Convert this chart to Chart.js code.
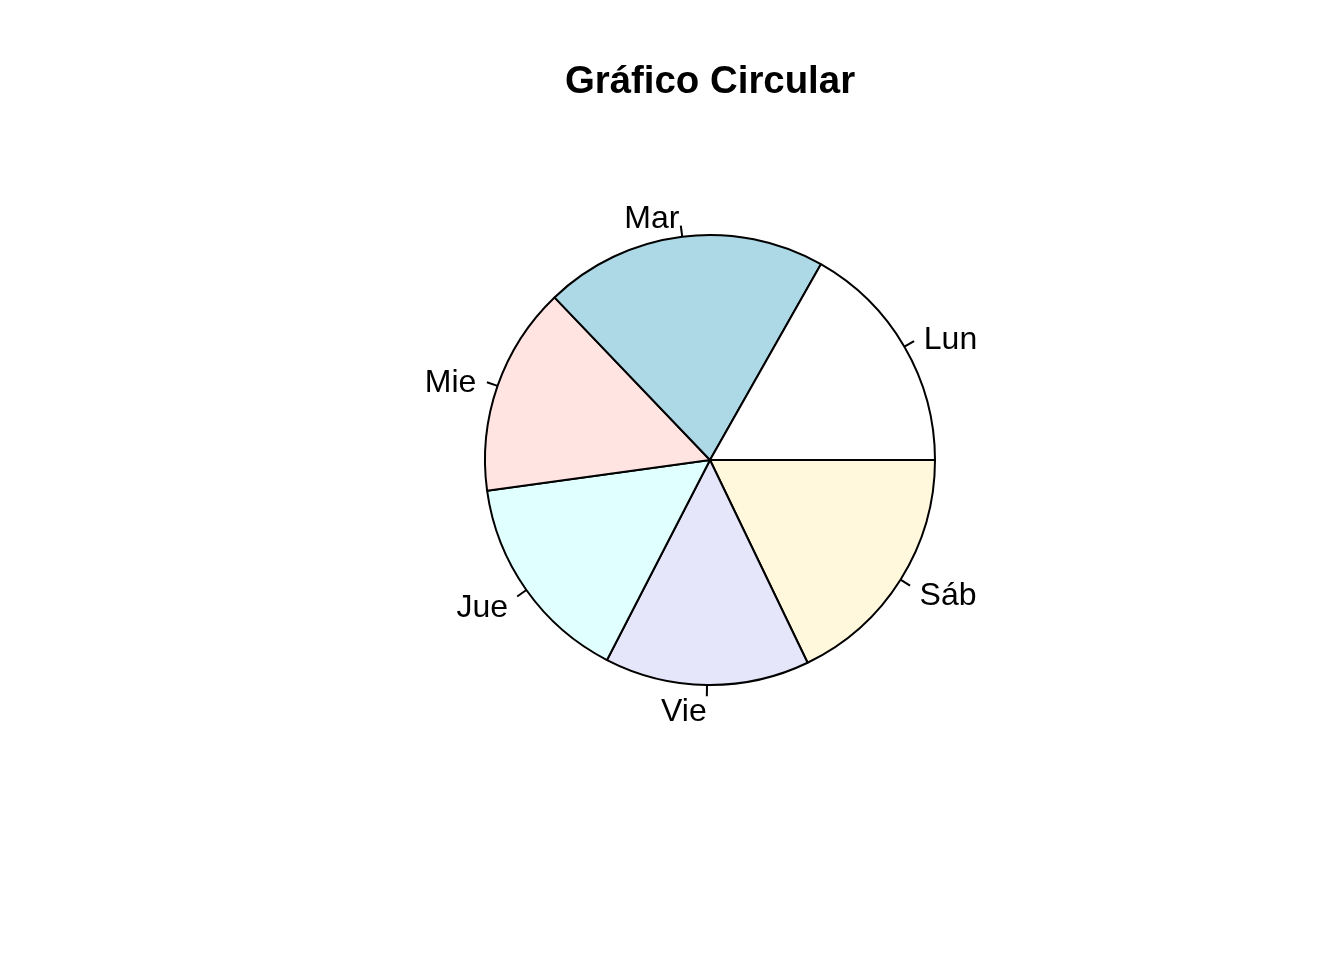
<!DOCTYPE html>
<html>
<head>
<meta charset="utf-8">
<script src="https://cdn.jsdelivr.net/npm/chart.js@4.4.1/dist/chart.umd.min.js"></script>
<style>
html,body{margin:0;padding:0;background:#fff;}
canvas{display:block;}
</style>
</head>
<body>
<canvas id="c" width="1344" height="960"></canvas>
<script>
// Data (R pie order: counter-clockwise from 3 o'clock)
const categories = ["Lun", "Mar", "Mie", "Jue", "Vie", "Sáb"];
const values = [16.8, 20.35, 15.03, 15.26, 14.71, 17.86];
const colors = ["#FFFFFF", "#ADD8E6", "#FFE4E1", "#E0FFFF", "#E6E6FA", "#FFF8DC"];
const titleText = "Gráfico Circular";

// Chart.js draws clockwise, so reverse to emulate R's counter-clockwise order
const cLabels = categories.slice().reverse();
const cValues = values.slice().reverse();
const cColors = colors.slice().reverse();

const FONT = '"Liberation Sans", Arial, sans-serif';

const labelPlugin = {
  id: 'rlabels',
  afterDatasetsDraw(chart) {
    const ctx = chart.ctx;
    const meta = chart.getDatasetMeta(0);
    ctx.save();
    ctx.strokeStyle = '#000';
    ctx.lineWidth = 2;
    ctx.fillStyle = '#000';
    ctx.font = '32px ' + FONT;
    ctx.textBaseline = 'alphabetic';
    meta.data.forEach((arc, i) => {
      const p = arc.getProps(['x', 'y', 'startAngle', 'endAngle', 'outerRadius'], true);
      const mid = (p.startAngle + p.endAngle) / 2;
      const cx = Math.cos(mid), cy = Math.sin(mid);
      const r = p.outerRadius;
      ctx.beginPath();
      ctx.moveTo(p.x + cx * r, p.y + cy * r);
      ctx.lineTo(p.x + cx * r * 1.05, p.y + cy * r * 1.05);
      ctx.stroke();
      const lx = p.x + cx * r * 1.1;
      const ly = p.y + cy * r * 1.1;
      ctx.textAlign = cx >= 0 ? 'left' : 'right';
      ctx.fillText(chart.data.labels[i], lx, ly + 13.5);
    });
    ctx.font = 'bold 38.4px ' + FONT;
    ctx.textAlign = 'center';
    ctx.fillText(titleText, 710, 93);
    ctx.restore();
  }
};

new Chart(document.getElementById('c'), {
  type: 'pie',
  data: {
    labels: cLabels,
    datasets: [{
      data: cValues,
      backgroundColor: cColors,
      borderColor: '#000000',
      borderWidth: 2,
      radius: 225,
      hoverOffset: 0
    }]
  },
  options: {
    responsive: false,
    animation: false,
    devicePixelRatio: 1,
    rotation: 90,
    layout: { padding: { left: 485, right: 409, top: 235, bottom: 275 } },
    plugins: {
      legend: { display: false },
      tooltip: { enabled: false },
      title: { display: false }
    },
    events: []
  },
  plugins: [labelPlugin]
});
</script>
</body>
</html>
